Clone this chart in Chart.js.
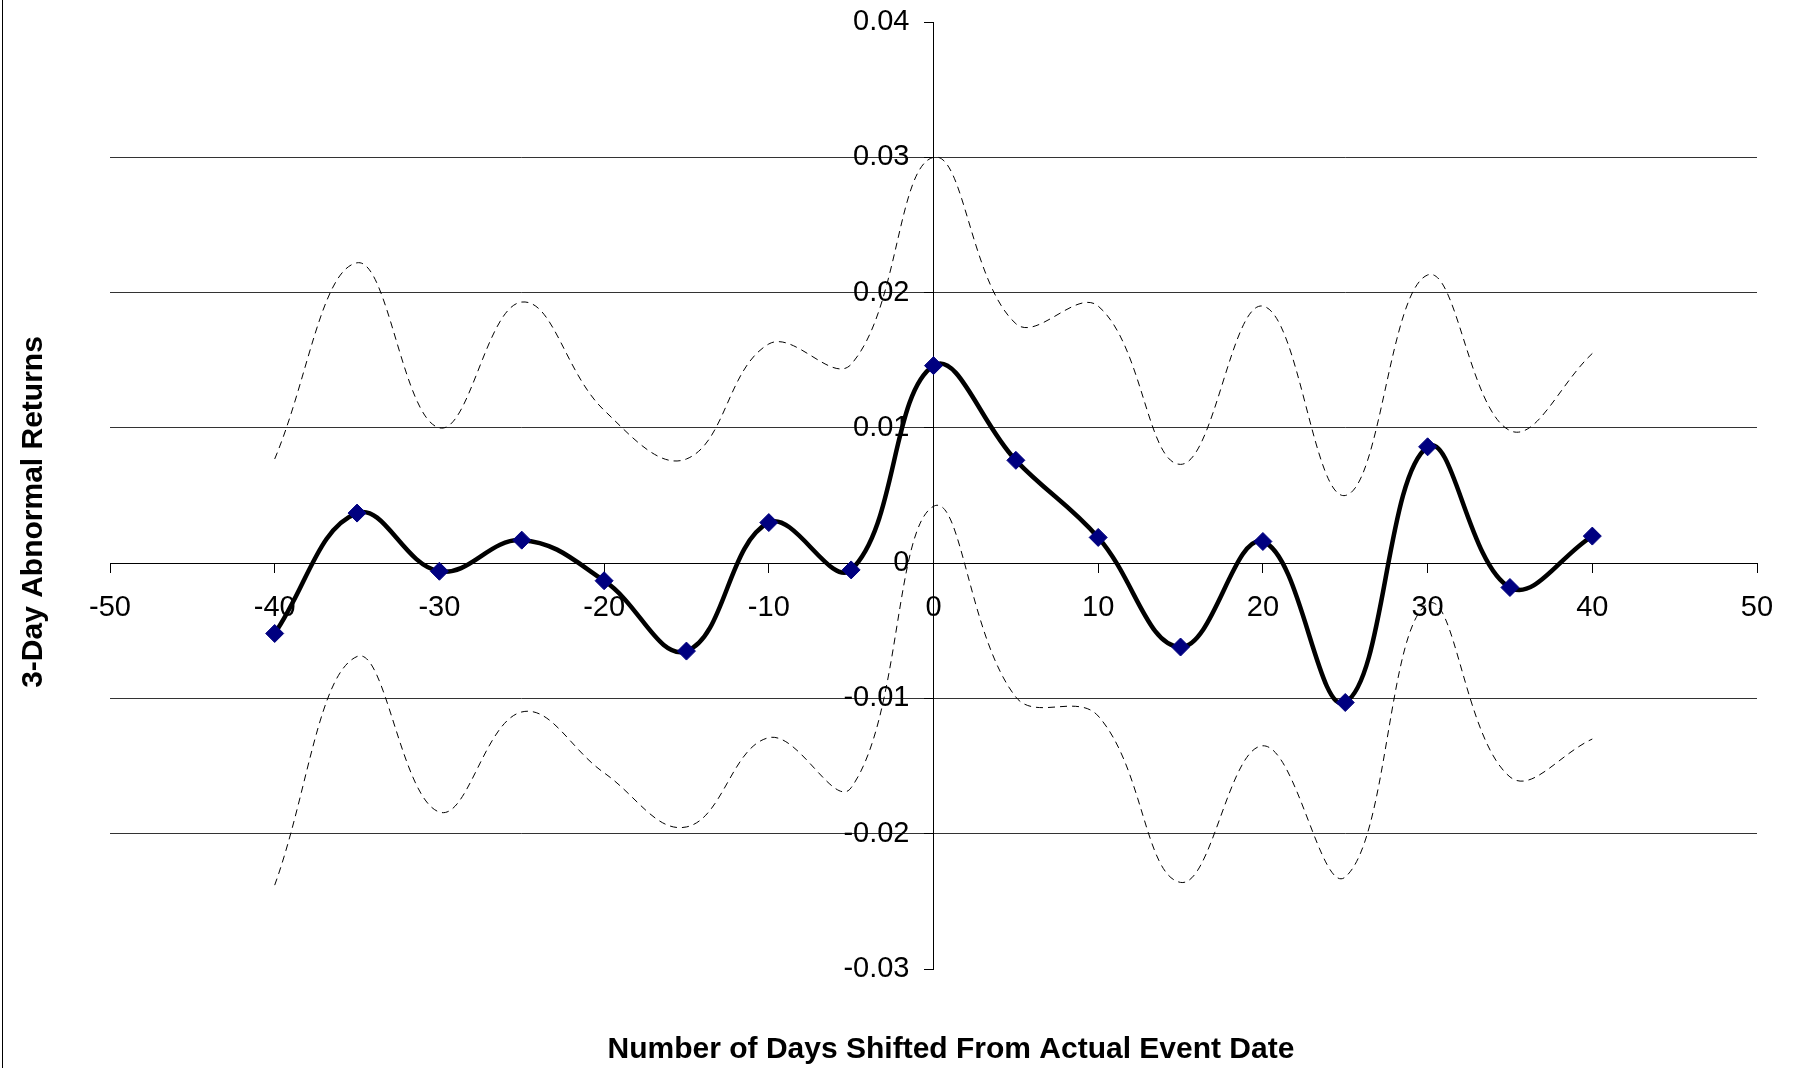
<!DOCTYPE html>
<html>
<head>
<meta charset="utf-8">
<script src="https://cdn.jsdelivr.net/npm/chart.js@4/dist/chart.umd.min.js"></script>
<style>
  html, body { margin: 0; padding: 0; background: #fff; overflow: hidden; }
  #wrap { position: relative; width: 1793px; height: 1068px; }
  canvas { display: block; }
</style>
</head>
<body>
<div id="wrap"><canvas id="c" width="1793" height="1068"></canvas></div>
<script>
// ---- data ----
const days = [-40, -35, -30, -25, -20, -15, -10, -5, 0, 5, 10, 15, 20, 25, 30, 35, 40];
const abnormalReturns = [-0.0052, 0.0037, -0.0006, 0.0017, -0.0013, -0.0065, 0.0030, -0.0005, 0.0146, 0.0076, 0.0019, -0.0062, 0.0016, -0.0103, 0.0086, -0.0018, 0.0020];
const upperBand = [0.0077, 0.0222, 0.0100, 0.0193, 0.0113, 0.0077, 0.0162, 0.0147, 0.0300, 0.0177, 0.0190, 0.0073, 0.0190, 0.0050, 0.0213, 0.0098, 0.0155];
const lowerBand = [-0.0238, -0.0069, -0.0184, -0.0110, -0.0155, -0.0195, -0.0129, -0.0166, 0.0042, -0.0099, -0.0113, -0.0236, -0.0135, -0.0232, -0.0030, -0.0158, -0.0130];
const xTickValues = [-50, -40, -30, -20, -10, 0, 10, 20, 30, 40, 50];
const yTickValues = [-0.03, -0.02, -0.01, 0, 0.01, 0.02, 0.03, 0.04];
const yTitle = '3-Day Abnormal Returns';
const xTitle = 'Number of Days Shifted From Actual Event Date';

const FONT = "'Liberation Sans', Arial, Helvetica, sans-serif";

function pts(ys) { return days.map((d, i) => ({ x: d, y: ys[i] })); }
const fmtY = (v) => String(Number(Number(v).toFixed(2)));

const titlesPlugin = {
  id: 'axisTitles',
  afterDraw(chart) {
    const ctx = chart.ctx;
    const ys = chart.scales.y, xs = chart.scales.x;
    ctx.save();
    // left border line
    ctx.strokeStyle = '#000';
    ctx.lineWidth = 1;
    ctx.beginPath();
    ctx.moveTo(2.5, 0);
    ctx.lineTo(2.5, chart.height);
    ctx.stroke();
    ctx.fillStyle = '#000';
    // y tick labels, placed left of the y axis (which sits at x = 0)
    ctx.font = '29px ' + FONT;
    ctx.textAlign = 'right';
    ctx.textBaseline = 'middle';
    const axisX = xs.getPixelForValue(0);
    yTickValues.forEach(v => {
      ctx.fillText(fmtY(v), axisX - 24, ys.getPixelForValue(v));
    });
    // axis titles
    ctx.font = 'bold 30px ' + FONT;
    ctx.textAlign = 'center';
    ctx.fillText(xTitle, 951, 1050);
    ctx.translate(34, 512);
    ctx.rotate(-Math.PI / 2);
    ctx.fillText(yTitle, 0, 0);
    ctx.restore();
  }
};

const zeroPad = (s) => { s.paddingLeft = 0; s.paddingRight = 0; s.paddingTop = 0; s.paddingBottom = 0; };
const isEdge = (v) => Math.abs(v - 0.04) < 1e-9 || Math.abs(v + 0.03) < 1e-9;

new Chart(document.getElementById('c'), {
  type: 'line',
  data: {
    datasets: [
      {
        label: 'Abnormal returns',
        data: pts(abnormalReturns),
        borderColor: '#000',
        borderWidth: 4.5,
        tension: 0.4,
        pointStyle: 'rectRot',
        pointRadius: 9,
        pointBackgroundColor: '#000080',
        pointBorderColor: '#000080',
        pointBorderWidth: 1,
        fill: false
      },
      {
        label: 'Upper',
        data: pts(upperBand),
        borderColor: '#000',
        borderWidth: 1,
        borderDash: [7, 5],
        tension: 0.4,
        pointRadius: 0,
        fill: false
      },
      {
        label: 'Lower',
        data: pts(lowerBand),
        borderColor: '#000',
        borderWidth: 1,
        borderDash: [7, 5],
        tension: 0.4,
        pointRadius: 0,
        fill: false
      }
    ]
  },
  options: {
    responsive: false,
    animation: false,
    devicePixelRatio: 1,
    layout: { padding: { left: 110, right: 36, top: 22, bottom: 99 } },
    plugins: { legend: { display: false }, tooltip: { enabled: false }, title: { display: false } },
    elements: { line: { capBezierPoints: false } },
    scales: {
      x: {
        type: 'linear',
        min: -50, max: 50,
        position: { y: 0 },
        afterBuildTicks: (s) => { s.ticks = xTickValues.map(v => ({ value: v })); },
        afterFit: zeroPad,
        grid: { drawOnChartArea: false, drawTicks: true, tickLength: 9, tickColor: '#000', tickWidth: 1 },
        border: { display: true, color: '#000', width: 1 },
        ticks: {
          color: '#000', padding: 18, maxRotation: 0, autoSkip: false,
          font: { family: FONT, size: 29 },
          callback: (v) => String(v)
        }
      },
      y: {
        type: 'linear',
        min: -0.03, max: 0.04,
        position: { x: 0 },
        afterBuildTicks: (s) => { s.ticks = yTickValues.map(v => ({ value: v })); },
        afterFit: zeroPad,
        grid: {
          drawOnChartArea: true, drawTicks: true, tickLength: 9, tickColor: '#000', tickWidth: 1,
          color: (c) => (c.tick && isEdge(c.tick.value)) ? 'rgba(0,0,0,0)' : '#333',
          lineWidth: 1
        },
        border: { display: true, color: '#000', width: 1 },
        ticks: {
          display: false,
          font: { family: FONT, size: 29 },
          callback: (v) => fmtY(v)
        }
      }
    }
  },
  plugins: [titlesPlugin]
});
</script>
</body>
</html>
